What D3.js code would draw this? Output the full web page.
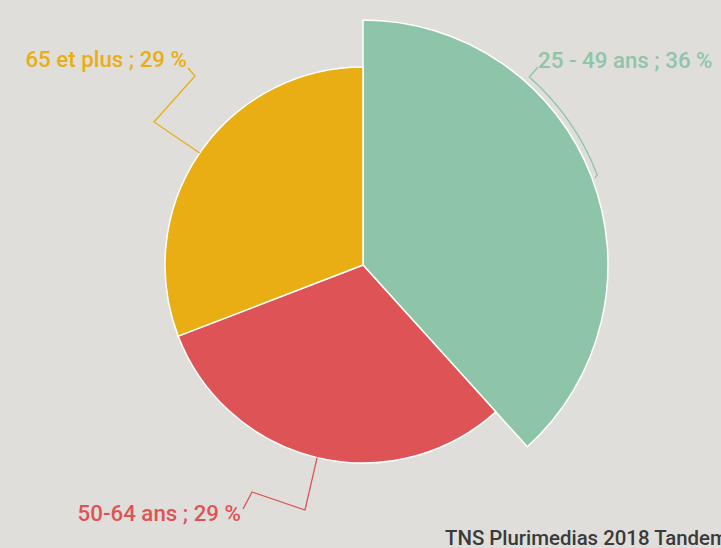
<!DOCTYPE html>
<html><head><meta charset="utf-8">
<script src="https://cdn.jsdelivr.net/npm/d3@7"></script>
<style>
html,body{margin:0;padding:0;background:#dfdedb;}
svg{display:block;font-family:Roboto, "Noto Sans", sans-serif;}
</style></head>
<body>
<script>
const categories = ["25 - 49 ans", "50-64 ans", "65 et plus"];
const values = [36, 29, 29];
const colors = ["#8ec5a8", "#de5456", "#e8ae13"];
const highlighted = "25 - 49 ans";
const source = "TNS Plurimedias 2018 Tandem";

const W = 721, H = 548;
const cx = 363, cy = 265, r = 198, R = 245;
const fs = 22.3;

const svg = d3.select("body").append("svg").attr("width", W).attr("height", H);
svg.append("rect").attr("width", W).attr("height", H).attr("fill", "#dfdedb");

const data = categories.map((c, i) => ({cat: c, value: values[i], color: colors[i]}));
const pie = d3.pie().sort(null).value(d => d.value);
const arcs = pie(data);
const outer = d => d.data.cat === highlighted ? R : r;
const arc = d3.arc().innerRadius(0).outerRadius(outer);

const g = svg.append("g").attr("transform", `translate(${cx},${cy})`);
g.selectAll("path.slice").data(arcs).join("path")
  .attr("class", "slice")
  .attr("d", arc)
  .attr("fill", d => d.data.color)
  .attr("stroke", "#ffffff")
  .attr("stroke-width", 1.5)
  .attr("stroke-linejoin", "round");

const pt = (a, rad) => [rad * Math.sin(a), -rad * Math.cos(a)];
const deg = Math.PI / 180;
const mid = d => (d.startAngle + d.endAngle) / 2;

const lab = arcs.map(d => ({d, text: `${d.data.cat} ; ${d.data.value} %`}));

// 25-49 (highlighted): bracket arc
{
  const d = arcs[0];
  const a0 = mid(d), a1 = 41.5 * deg, rr = R + 6;
  const p0 = pt(a0 + 0.5 * deg, R + 3), p1 = pt(a0, rr);
  const path = d3.path();
  path.moveTo(...p0); path.lineTo(...p1);
  path.arc(0, 0, rr, a0 - Math.PI / 2, a1 - Math.PI / 2, true);
  path.lineTo(538 - cx, 67 - cy);
  g.append("path").attr("d", path.toString()).attr("fill", "none")
    .attr("stroke", d.data.color).attr("stroke-width", 1.3);
  svg.append("text").attr("x", 538).attr("y", 68).attr("text-anchor", "start")
    .attr("fill", d.data.color).attr("font-size", fs).attr("font-weight", 500).text(lab[0].text);
}
// 50-64
{
  const d = arcs[1];
  const p0 = pt(mid(d), r);
  const pts = [p0, [305 - cx, 510 - cy], [252 - cx, 492 - cy], [243 - cx, 509 - cy]];
  g.append("path").attr("d", d3.line()(pts)).attr("fill", "none")
    .attr("stroke", d.data.color).attr("stroke-width", 1.3);
  svg.append("text").attr("x", 241).attr("y", 521).attr("text-anchor", "end")
    .attr("fill", d.data.color).attr("font-size", fs).attr("font-weight", 500).text(lab[1].text);
}
// 65 et plus
{
  const d = arcs[2];
  const p0 = pt(mid(d), r);
  const pts = [p0, [154 - cx, 122 - cy], [195 - cx, 76 - cy], [188 - cx, 68 - cy]];
  g.append("path").attr("d", d3.line()(pts)).attr("fill", "none")
    .attr("stroke", d.data.color).attr("stroke-width", 1.3);
  svg.append("text").attr("x", 187).attr("y", 67).attr("text-anchor", "end")
    .attr("fill", d.data.color).attr("font-size", fs).attr("font-weight", 500).text(lab[2].text);
}

svg.append("text").attr("x", 445).attr("y", 545)
  .attr("fill", "#3a3a3a").attr("font-size", 20.4).attr("font-weight", 500).text(source);
</script>
</body></html>
